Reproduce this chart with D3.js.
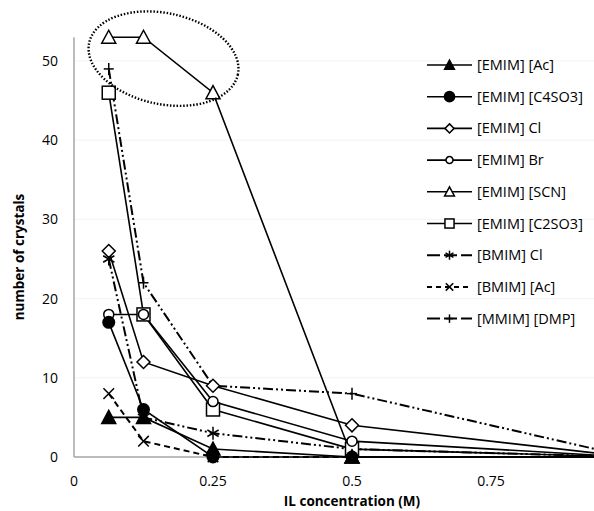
<!DOCTYPE html>
<html>
<head>
<meta charset="utf-8">
<script src="https://cdn.jsdelivr.net/npm/d3@7"></script>
<style>
  body { margin: 0; background: #fff; }
  svg { display: block; font-family: "Open Sans", sans-serif; }
</style>
</head>
<body>
<div id="chart"></div>
<script>
/* concentrations (M) */
var conc = [0.0625, 0.125, 0.25, 0.5, 1];

/* number of crystals per ionic liquid */
var emimAc = [5, 5, 1, 0, 0];
var emimC4SO3 = [17, 6, 0, 0, 0];
var emimCl = [26, 12, 9, 4, 0];
var emimBr = [18, 18, 7, 2, 0];
var emimSCN = [53, 53, 46, 0, 0];
var emimC2SO3 = [46, 18, 6, 1, 0];
var bmimCl = [25, 5, 3, 1, 0];
var bmimAc = [8, 2, 0, 0, 0];
var mmimDMP = [49, 22, 9, 8, 0];

var names = ["[EMIM] [Ac]", "[EMIM] [C4SO3]", "[EMIM] Cl", "[EMIM] Br", "[EMIM] [SCN]",
             "[EMIM] [C2SO3]", "[BMIM] Cl", "[BMIM] [Ac]", "[MMIM] [DMP]"];
var values = [emimAc, emimC4SO3, emimCl, emimBr, emimSCN, emimC2SO3, bmimCl, bmimAc, mmimDMP];

var xTicks = [0, 0.25, 0.5, 0.75];
var yTicks = [0, 10, 20, 30, 40, 50];

/* marker type + dash per series */
var markers = ["triFill", "dotFill", "diamond", "circle", "triangle", "square", "asterisk", "cross", "plus"];
var dashes = [null, null, null, null, null, null, "10,3,2,3,2,3", "6,4", "10,3,2,3,2,3"];

var width = 594, height = 511;

var x = d3.scaleLinear().domain([0, 1]).range([74, 630]);
var y = d3.scaleLinear().domain([0, 50]).range([457, 61]);

var svg = d3.select("#chart").append("svg")
    .attr("width", width)
    .attr("height", height);

/* faint gridlines */
svg.append("g").selectAll("line")
    .data(yTicks.slice(1))
    .enter().append("line")
    .attr("x1", x(0)).attr("x2", width)
    .attr("y1", d => y(d)).attr("y2", d => y(d))
    .attr("stroke", "#f3f3f3")
    .attr("stroke-width", 1);

/* axes lines (gray) */
svg.append("line")
    .attr("x1", x(0)).attr("x2", x(0))
    .attr("y1", y(0)).attr("y2", y(53))
    .attr("stroke", "#a6a6a6").attr("stroke-width", 1.5);
svg.append("line")
    .attr("x1", x(0)).attr("x2", width)
    .attr("y1", y(0)).attr("y2", y(0))
    .attr("stroke", "#a6a6a6").attr("stroke-width", 1.5);

/* tick labels */
svg.append("g").selectAll("text")
    .data(yTicks)
    .enter().append("text")
    .attr("x", 58)
    .attr("y", d => y(d) + 5)
    .attr("text-anchor", "end")
    .style("font-size", "14px")
    .text(d => d);

svg.append("g").selectAll("text")
    .data(xTicks)
    .enter().append("text")
    .attr("x", d => x(d))
    .attr("y", 486)
    .attr("text-anchor", "middle")
    .style("font-size", "14px")
    .text(d => d);

/* axis titles */
svg.append("text")
    .attr("x", 352).attr("y", 506)
    .attr("text-anchor", "middle")
    .style("font-size", "13.5px")
    .style("font-weight", "bold")
    .text("IL concentration (M)");

svg.append("text")
    .attr("transform", "translate(24, 257) rotate(-90)")
    .attr("text-anchor", "middle")
    .style("font-size", "13.5px")
    .style("font-weight", "bold")
    .text("number of crystals");

/* marker drawing */
function drawMarker(g, type, cx, cy, k) {
    k = k || 1;
    var m = g.append("g").attr("transform", "translate(" + cx + "," + cy + ") scale(" + k + ")");
    var sw = 1.5 / k;
    if (type === "triFill" || type === "triangle") {
        m.append("path").attr("d", "M0,-7L7,6L-7,6Z")
            .attr("fill", type === "triFill" ? "#000" : "#fff")
            .attr("stroke", "#000").attr("stroke-width", sw);
    } else if (type === "dotFill") {
        m.append("circle").attr("r", 6.5).attr("fill", "#000");
    } else if (type === "circle") {
        m.append("circle").attr("r", 5).attr("fill", "#fff")
            .attr("stroke", "#000").attr("stroke-width", sw);
    } else if (type === "diamond") {
        m.append("path").attr("d", "M0,-6.5L6.5,0L0,6.5L-6.5,0Z").attr("fill", "#fff")
            .attr("stroke", "#000").attr("stroke-width", sw);
    } else if (type === "square") {
        m.append("rect").attr("x", -6.5).attr("y", -6.5).attr("width", 13).attr("height", 13)
            .attr("fill", "#fff").attr("stroke", "#000").attr("stroke-width", sw);
    } else if (type === "asterisk") {
        [0, 60, 120].forEach(function(a) {
            m.append("line").attr("x1", 0).attr("x2", 0).attr("y1", -6.5).attr("y2", 6.5)
                .attr("transform", "rotate(" + a + ")")
                .attr("stroke", "#000").attr("stroke-width", sw);
        });
    } else if (type === "cross") {
        [45, -45].forEach(function(a) {
            m.append("line").attr("x1", 0).attr("x2", 0).attr("y1", -7.5).attr("y2", 7.5)
                .attr("transform", "rotate(" + a + ")")
                .attr("stroke", "#000").attr("stroke-width", sw);
        });
    } else if (type === "plus") {
        m.append("line").attr("x1", -5).attr("x2", 5).attr("y1", 0).attr("y2", 0)
            .attr("stroke", "#000").attr("stroke-width", sw);
        m.append("line").attr("x1", 0).attr("x2", 0).attr("y1", -6).attr("y2", 6)
            .attr("stroke", "#000").attr("stroke-width", sw);
    }
}

var line = d3.line()
    .x((d, i) => x(conc[i]))
    .y(d => y(d));

/* series lines, drawn last-first so EMIM series sit on top */
var series = svg.append("g");
for (var s = values.length - 1; s >= 0; s--) {
    series.append("path")
        .attr("d", line(values[s]))
        .attr("fill", "none")
        .attr("stroke", "#000")
        .attr("stroke-width", s >= 6 ? 2 : 1.6)
        .attr("stroke-dasharray", dashes[s]);
}
for (var s = values.length - 1; s >= 0; s--) {
    values[s].forEach(function(v, i) {
        drawMarker(series, markers[s], x(conc[i]), y(v));
    });
}

/* dotted ellipse around [EMIM] [SCN] */
svg.append("ellipse")
    .attr("cx", x(0.161)).attr("cy", y(50.3))
    .attr("rx", 76).attr("ry", 45.5)
    .attr("transform", "rotate(12," + x(0.161) + "," + y(50.3) + ")")
    .attr("fill", "none")
    .attr("stroke", "#000")
    .attr("stroke-width", 2.4)
    .attr("stroke-dasharray", "1.5,1.8");

/* legend */
var legend = svg.append("g").attr("transform", "translate(427, 65)");
names.forEach(function(n, i) {
    var row = legend.append("g").attr("transform", "translate(0," + (i * 31.7) + ")");
    row.append("line")
        .attr("x1", 0).attr("x2", 45).attr("y1", 0).attr("y2", 0)
        .attr("stroke", "#000")
        .attr("stroke-width", i >= 6 ? 2 : 1.6)
        .attr("stroke-dasharray", i >= 6 ? (i === 7 ? "5,4" : "13,4") : null);
    drawMarker(row, markers[i], 22.5, 0, i === 1 ? 0.9 : 0.7);
    row.append("text")
        .attr("x", 50).attr("y", 5)
        .style("font-size", "14.5px")
        .text(n);
});
</script>
</body>
</html>
